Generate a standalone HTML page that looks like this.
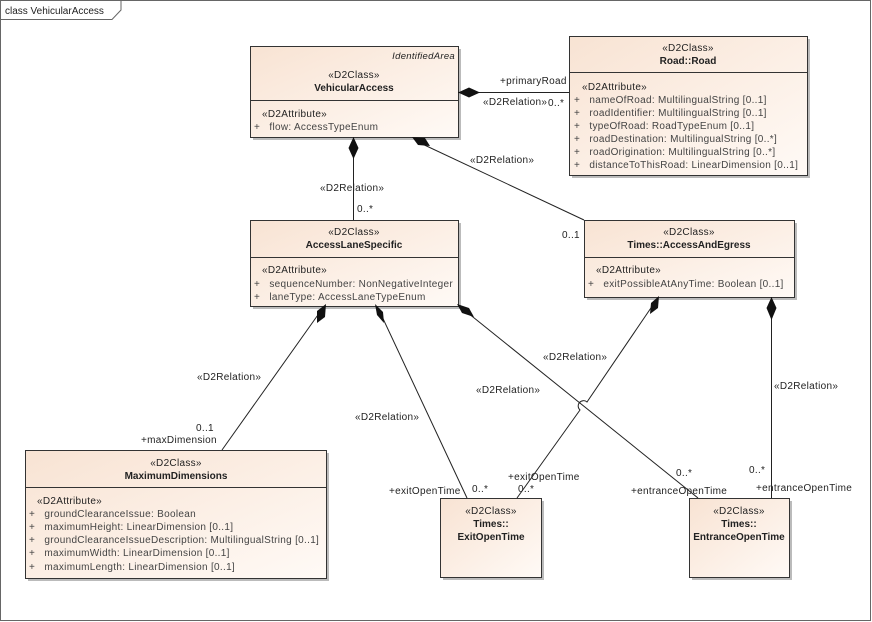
<!DOCTYPE html>
<html><head><meta charset="utf-8"><style>
html,body{margin:0;padding:0;background:#fff;}
svg{display:block;font-family:"Liberation Sans",sans-serif;}
text{font-size:10px;letter-spacing:0.3px;fill:#222;}
.b{font-weight:bold;letter-spacing:0;}
.a{fill:#444;}
</style></head><body>
<svg width="872" height="622" viewBox="0 0 872 622" xmlns="http://www.w3.org/2000/svg">
<defs>
<linearGradient id="g" x1="0" y1="0" x2="1" y2="1">
<stop offset="0" stop-color="#f8e3d3"/><stop offset="1" stop-color="#fffaf6"/>
</linearGradient>
</defs>
<rect x="0.5" y="0.5" width="870" height="620" fill="#fff" stroke="#666"/>
<path d="M0.5 19.5 H112 L121 10 V0.5" fill="none" stroke="#666"/>
<text x="5" y="14" style="letter-spacing:0">class VehicularAccess</text>

<g fill="#bbb">
<rect x="253" y="49" width="208" height="91"/>
<rect x="572" y="39" width="238" height="139"/>
<rect x="253" y="223" width="208" height="86"/>
<rect x="587" y="223" width="210" height="77"/>
<rect x="28" y="453" width="301" height="128"/>
<rect x="443" y="501" width="101" height="79"/>
<rect x="692" y="501" width="100" height="79"/>
</g>
<g fill="url(#g)" stroke="#333">
<rect x="250.5" y="46.5" width="208" height="91"/>
<rect x="569.5" y="36.5" width="238" height="139"/>
<rect x="250.5" y="220.5" width="208" height="86"/>
<rect x="584.5" y="220.5" width="210" height="77"/>
<rect x="25.5" y="450.5" width="301" height="128"/>
<rect x="440.5" y="498.5" width="101" height="79"/>
<rect x="689.5" y="498.5" width="100" height="79"/>
</g>
<g stroke="#333">
<line x1="250" y1="100.5" x2="458" y2="100.5"/>
<line x1="569" y1="72.5" x2="807" y2="72.5"/>
<line x1="250" y1="257.5" x2="458" y2="257.5"/>
<line x1="584" y1="257.5" x2="794" y2="257.5"/>
<line x1="25" y1="487.5" x2="326" y2="487.5"/>
</g>

<g stroke="#222" fill="none">
<line x1="458" y1="92.5" x2="569" y2="92.5"/>
<line x1="353.5" y1="137" x2="353.5" y2="220"/>
<line x1="418" y1="142" x2="584" y2="220"/>
<line x1="320" y1="312" x2="222" y2="450"/>
<line x1="379" y1="310" x2="467" y2="498"/>
<line x1="463" y1="309" x2="698" y2="498"/>
<path d="M655 302 L587 402 A4 4 0 0 0 580 410 L517 498"/>
<line x1="771.5" y1="297" x2="771.5" y2="498"/>
</g>
<g fill="#111">
<polygon points="458,92.5 469,87.5 480,92.5 469,97.5"/>
<polygon points="353.5,137 358.5,148 353.5,159 348.5,148"/>
<polygon points="412,137 425,138 430,146 418,145"/>
<polygon points="326,304 325,317 317,323 317,311"/>
<polygon points="375,304 383,312 384,323 377,315"/>
<polygon points="457,304 469,308 474,317 462,313"/>
<polygon points="659,296 658,308 650,314 651,303"/>
<polygon points="771.5,297 776.5,308 771.5,320 766.5,308"/>
</g>

<text x="500" y="84">+primaryRoad</text>
<text x="483" y="105">«D2Relation»</text>
<text x="548" y="106">0..*</text>
<text x="470" y="163">«D2Relation»</text>
<text x="320" y="191">«D2Relation»</text>
<text x="357" y="212">0..*</text>
<text x="562" y="238">0..1</text>
<text x="197" y="380">«D2Relation»</text>
<text x="196" y="431">0..1</text>
<text x="141" y="443">+maxDimension</text>
<text x="355" y="420">«D2Relation»</text>
<text x="389" y="494">+exitOpenTime</text>
<text x="472" y="492">0..*</text>
<text x="476" y="393">«D2Relation»</text>
<text x="543" y="360">«D2Relation»</text>
<text x="508" y="480">+exitOpenTime</text>
<text x="518" y="492">0..*</text>
<text x="676" y="476">0..*</text>
<text x="631" y="494">+entranceOpenTime</text>
<text x="774" y="389">«D2Relation»</text>
<text x="749" y="473">0..*</text>
<text x="756" y="491">+entranceOpenTime</text>

<text x="455" y="59" text-anchor="end" font-style="italic" style="font-size:9.5px">IdentifiedArea</text>
<text x="354" y="78" text-anchor="middle">«D2Class»</text>
<text x="354" y="91" text-anchor="middle" class="b">VehicularAccess</text>
<text x="262" y="117">«D2Attribute»</text>
<text x="254" y="130" class="a">+&#160;&#160;&#160;flow: AccessTypeEnum</text>

<text x="688" y="51" text-anchor="middle">«D2Class»</text>
<text x="688" y="64" text-anchor="middle" class="b">Road::Road</text>
<text x="582" y="90">«D2Attribute»</text>
<text x="574" y="103" class="a">+&#160;&#160;&#160;nameOfRoad: MultilingualString [0..1]</text>
<text x="574" y="116" class="a">+&#160;&#160;&#160;roadIdentifier: MultilingualString [0..1]</text>
<text x="574" y="129" class="a">+&#160;&#160;&#160;typeOfRoad: RoadTypeEnum [0..1]</text>
<text x="574" y="142" class="a">+&#160;&#160;&#160;roadDestination: MultilingualString [0..*]</text>
<text x="574" y="155" class="a">+&#160;&#160;&#160;roadOrigination: MultilingualString [0..*]</text>
<text x="574" y="168" class="a">+&#160;&#160;&#160;distanceToThisRoad: LinearDimension [0..1]</text>

<text x="354" y="235" text-anchor="middle">«D2Class»</text>
<text x="354" y="248" text-anchor="middle" class="b">AccessLaneSpecific</text>
<text x="262" y="273">«D2Attribute»</text>
<text x="254" y="287" class="a">+&#160;&#160;&#160;sequenceNumber: NonNegativeInteger</text>
<text x="254" y="300" class="a">+&#160;&#160;&#160;laneType: AccessLaneTypeEnum</text>

<text x="689" y="235" text-anchor="middle">«D2Class»</text>
<text x="689" y="248" text-anchor="middle" class="b">Times::AccessAndEgress</text>
<text x="596" y="273">«D2Attribute»</text>
<text x="588" y="287" class="a">+&#160;&#160;&#160;exitPossibleAtAnyTime: Boolean [0..1]</text>

<text x="176" y="466" text-anchor="middle">«D2Class»</text>
<text x="176" y="479" text-anchor="middle" class="b">MaximumDimensions</text>
<text x="37" y="504">«D2Attribute»</text>
<text x="29" y="517" class="a">+&#160;&#160;&#160;groundClearanceIssue: Boolean</text>
<text x="29" y="530" class="a">+&#160;&#160;&#160;maximumHeight: LinearDimension [0..1]</text>
<text x="29" y="543" class="a">+&#160;&#160;&#160;groundClearanceIssueDescription: MultilingualString [0..1]</text>
<text x="29" y="556" class="a">+&#160;&#160;&#160;maximumWidth: LinearDimension [0..1]</text>
<text x="29" y="570" class="a">+&#160;&#160;&#160;maximumLength: LinearDimension [0..1]</text>

<text x="491" y="514" text-anchor="middle">«D2Class»</text>
<text x="491" y="527" text-anchor="middle" class="b">Times::</text>
<text x="491" y="540" text-anchor="middle" class="b">ExitOpenTime</text>

<text x="739" y="514" text-anchor="middle">«D2Class»</text>
<text x="739" y="527" text-anchor="middle" class="b">Times::</text>
<text x="739" y="540" text-anchor="middle" class="b">EntranceOpenTime</text>
</svg>
</body></html>
